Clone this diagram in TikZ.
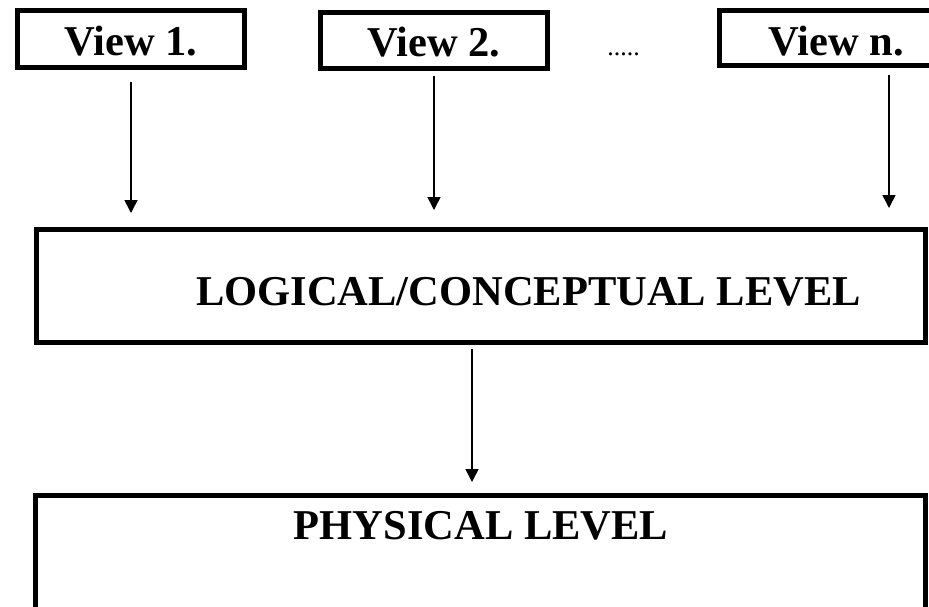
\documentclass[tikz,border=0pt]{standalone}
\usepackage{fontspec}
\setmainfont{Liberation Serif}
\usetikzlibrary{arrows.meta}
\begin{document}
\begin{tikzpicture}[x=1pt,y=-1pt,
  levelbox/.style={draw,line width=5pt,rectangle,inner sep=0pt},
  bigtext/.style={font=\bfseries\fontsize{42.5}{50}\selectfont,inner sep=0pt,anchor=base},
  flow/.style={line width=1.5pt,-{Triangle[width=13pt,length=13pt]}}]
\useasboundingbox (0,0) rectangle (929,606);
\clip (0,0) rectangle (929,606);

% view boxes
\node[levelbox,minimum width=227pt,minimum height=57pt] (v1) at (131,39) {};
\node[levelbox,minimum width=227pt,minimum height=56pt] (v2) at (434,40.5) {};
\node[levelbox,minimum width=233pt,minimum height=55pt] (vn) at (836,38) {};
\node[bigtext] (t1) at (131,55) {View 1.};
\node[bigtext] (t2) at (434,56) {View 2.};
\node[bigtext] (tn) at (836,55) {View n.};
\node[font=\fontsize{26}{30}\selectfont,inner sep=0pt,anchor=base] (dots) at (623.5,55) {.....};

% levels
\node[levelbox,minimum width=889pt,minimum height=113pt] (logical) at (481,286) {};
\node[bigtext] (tlogical) at (528.5,305) {LOGICAL/CONCEPTUAL LEVEL};
\node[levelbox,minimum width=890pt,minimum height=142pt] (physical) at (480.5,566.5) {};
\node[bigtext] (tphysical) at (481,539) {PHYSICAL LEVEL};

% exit points of the off-centre connectors
\coordinate (vnout) at ([xshift=53pt]vn.south);
\coordinate (logout) at ([xshift=-9pt]logical.south);

% connectors
\draw[flow,shorten <=12pt,shorten >=14pt] (v1.south) -- (logical.north -| v1.south);
\draw[flow,shorten <=5pt,shorten >=17pt] (v2.south) -- (logical.north -| v2.south);
\draw[flow,shorten <=7pt,shorten >=19pt] (vnout) -- (logical.north -| vnout);
\draw[flow,shorten <=4pt,shorten >=11pt] (logout) -- (physical.north -| logout);
\end{tikzpicture}
\end{document}
